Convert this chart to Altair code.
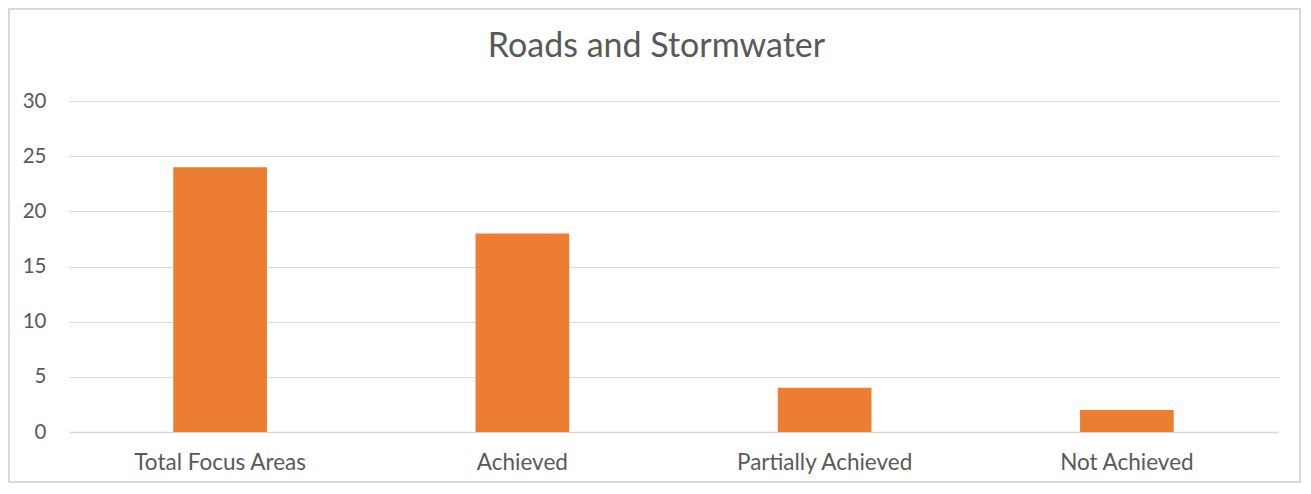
import altair as alt
import pandas as pd

categories = ["Total Focus Areas", "Achieved", "Partially Achieved", "Not Achieved"]
values = [24, 18, 4, 2]
chart_title = ["Roads and Stormwater"]

df = pd.DataFrame({"category": categories, "value": values})
tdf = pd.DataFrame({"t": chart_title})

W, H = 1209, 331
FONT = "Lato"
GREY = "#595959"

bars = alt.Chart(df).mark_bar(color="#ED7D31").encode(
    x=alt.X("category:N", sort=categories, title=None,
            scale=alt.Scale(paddingInner=0.69, paddingOuter=0.345),
            axis=alt.Axis(labelAngle=0, labelFontSize=22.5, labelColor=GREY, labelFont=FONT,
                          labelPadding=19, ticks=False, domainColor="#d9d9d9", domainWidth=1.5,
                          grid=False)),
    y=alt.Y("value:Q", title=None,
            scale=alt.Scale(domain=[0, 30]),
            axis=alt.Axis(values=[0, 5, 10, 15, 20, 25, 30], labelFontSize=20.5, labelColor=GREY,
                          labelFont=FONT, labelPadding=23, ticks=False, domain=False,
                          gridColor="#d9d9d9", gridWidth=1)),
)

border = alt.Chart(df).mark_rect(fill=None, stroke="#d9d9d9", strokeWidth=1.5).encode(
    x=alt.value(-60), x2=alt.value(W + 22), y=alt.value(-92), y2=alt.value(H + 50)
)

title = alt.Chart(tdf).mark_text(font=FONT, fontSize=34, color=GREY, baseline="alphabetic",
                                 align="center").encode(
    text="t:N", x=alt.value(W / 2 - 17), y=alt.value(-44)
)

chart = alt.layer(border, bars, title).properties(
    width=W, height=H,
    padding={"left": 61, "top": 93, "right": 25, "bottom": 52},
    autosize=alt.AutoSizeParams(type="none"),
).configure_view(stroke=None)

chart.save("out.html", embed_options={"renderer": "svg", "actions": False})
